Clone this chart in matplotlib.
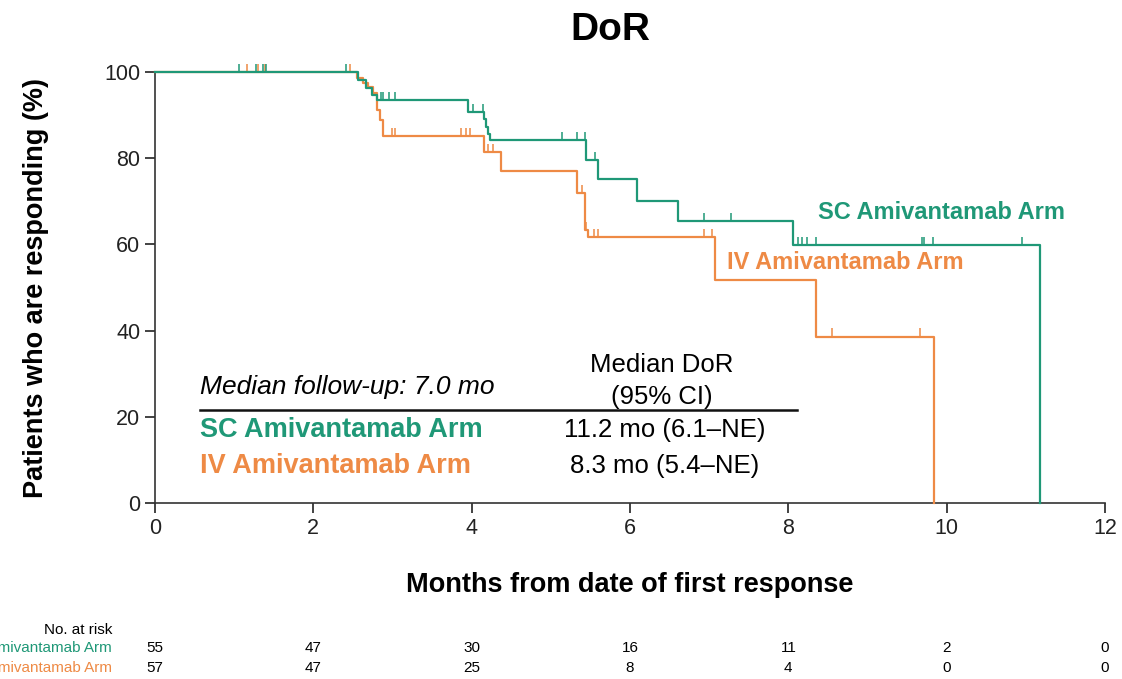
import numpy as np
import matplotlib
matplotlib.use('Agg')
import matplotlib.pyplot as plt
import matplotlib.transforms as mtransforms

plt.rcParams['font.family'] = ['Liberation Sans', 'DejaVu Sans']

# --- data ---
sc_times = [0, 2.56, 2.66, 2.74, 2.80, 3.95, 4.15, 4.18, 4.21, 4.23, 5.45, 5.60, 6.09, 6.61, 8.06, 11.18]
sc_surv = [100, 98.2, 96.4, 94.6, 93.5, 90.7, 89.0, 87.3, 85.6, 84.2, 79.6, 75.2, 70.1, 65.5, 59.9, 0]
sc_cens = [1.06, 1.27, 1.37, 1.40, 2.41, 2.85, 2.88, 2.96, 3.03, 4.02, 4.14, 5.14, 5.33, 5.43,
           5.56, 6.94, 7.28, 8.12, 8.17, 8.23, 8.35, 9.69, 9.71, 9.83, 10.95]

iv_times = [0, 2.55, 2.63, 2.69, 2.75, 2.80, 2.84, 2.88, 4.15, 4.37, 5.33, 5.43, 5.47, 7.07, 8.35, 9.84]
iv_surv = [100, 98.7, 97.4, 96.5, 95.2, 91.2, 88.9, 85.1, 81.5, 77.0, 71.9, 63.3, 61.7, 51.7, 38.6, 0]
iv_cens = [1.16, 1.30, 1.39, 2.46, 2.99, 3.03, 3.87, 3.93, 3.98, 4.21, 4.27, 5.39, 5.45, 5.55,
           5.60, 6.94, 7.04, 8.55, 9.66]

risk_months = [0, 2, 4, 6, 8, 10, 12]
sc_risk = [55, 47, 30, 16, 11, 2, 0]
iv_risk = [57, 47, 25, 8, 4, 0, 0]

arm_names = ['SC Amivantamab Arm', 'IV Amivantamab Arm']
medians = ['11.2 mo (6.1\u2013NE)', '8.3 mo (5.4\u2013NE)']

green = '#1F9877'
orange = '#EE8A45'

fig = plt.figure(figsize=(11.22, 6.79), dpi=100)
ax = fig.add_axes([155 / 1122, 1 - 503 / 679, 950 / 1122, 431 / 679])


def censor_y(times, surv, cens):
    idx = np.searchsorted(times, cens, side='right') - 1
    return np.array(surv)[idx]


# IV drawn first, SC on top
for times, surv, cens, col in [(iv_times, iv_surv, iv_cens, orange),
                               (sc_times, sc_surv, sc_cens, green)]:
    ax.step(times, surv, where='post', color=col, lw=1.6, clip_on=False, zorder=3)
    cy = censor_y(times, surv, cens)
    ax.vlines(cens, cy, cy + 1.9, color=col, lw=1.1, clip_on=False, zorder=3)

ax.set_xlim(0, 12)
ax.set_ylim(0, 100)
ax.set_xticks(range(0, 13, 2))
ax.set_yticks(range(0, 101, 20))
ax.tick_params(labelsize=15.5, length=7, width=1.2, direction='out', colors='#222222')
for s in ['top', 'right']:
    ax.spines[s].set_visible(False)
for s in ['left', 'bottom']:
    ax.spines[s].set_linewidth(1.2)
    ax.spines[s].set_color('#333333')

ax.set_xlabel('Months from date of first response', fontsize=19.5, fontweight='bold', labelpad=24)
ax.set_ylabel('Patients who are responding (%)', fontsize=19.5, fontweight='bold', labelpad=40)

fig.text(0.544, 0.956, 'DoR', fontsize=28, fontweight='bold', ha='center', va='center')

# curve labels
ax.text(8.37, 67.5, arm_names[0], color=green, fontsize=17, fontweight='bold', va='center')
ax.text(7.22, 55.7, arm_names[1], color=orange, fontsize=17, fontweight='bold', va='center')

# median box
ax.text(0.57, 26.9, 'Median follow-up: 7.0 mo', fontsize=19, style='italic', va='center')
ax.text(6.4, 32.0, 'Median DoR', fontsize=18.5, ha='center', va='center')
ax.text(6.4, 24.6, '(95% CI)', fontsize=18.5, ha='center', va='center')
ax.plot([0.57, 8.11], [21.6, 21.6], color='#111111', lw=1.8)
ax.text(0.57, 16.9, arm_names[0], color=green, fontsize=19.5, fontweight='bold', va='center')
ax.text(0.57, 8.6, arm_names[1], color=orange, fontsize=19.5, fontweight='bold', va='center')
ax.text(6.44, 16.9, medians[0], fontsize=18.5, ha='center', va='center')
ax.text(6.44, 8.6, medians[1], fontsize=18.5, ha='center', va='center')

# number at risk table (row labels run off the left edge, as in the source)
trans = mtransforms.blended_transform_factory(ax.transData, fig.transFigure)
fig.text(112 / 1122, 1 - 630 / 679, 'No. at risk', fontsize=11, ha='right', va='center')
for row, (vals, col, name) in enumerate([(sc_risk, green, arm_names[0]),
                                         (iv_risk, orange, arm_names[1])]):
    y = 1 - (648 + 20 * row) / 679
    fig.text(112 / 1122, y, name, fontsize=11, ha='right', va='center', color=col)
    for m, v in zip(risk_months, vals):
        ax.text(m, y, str(v), transform=trans, fontsize=11, ha='center', va='center')

fig.savefig('out.png', dpi=100)
